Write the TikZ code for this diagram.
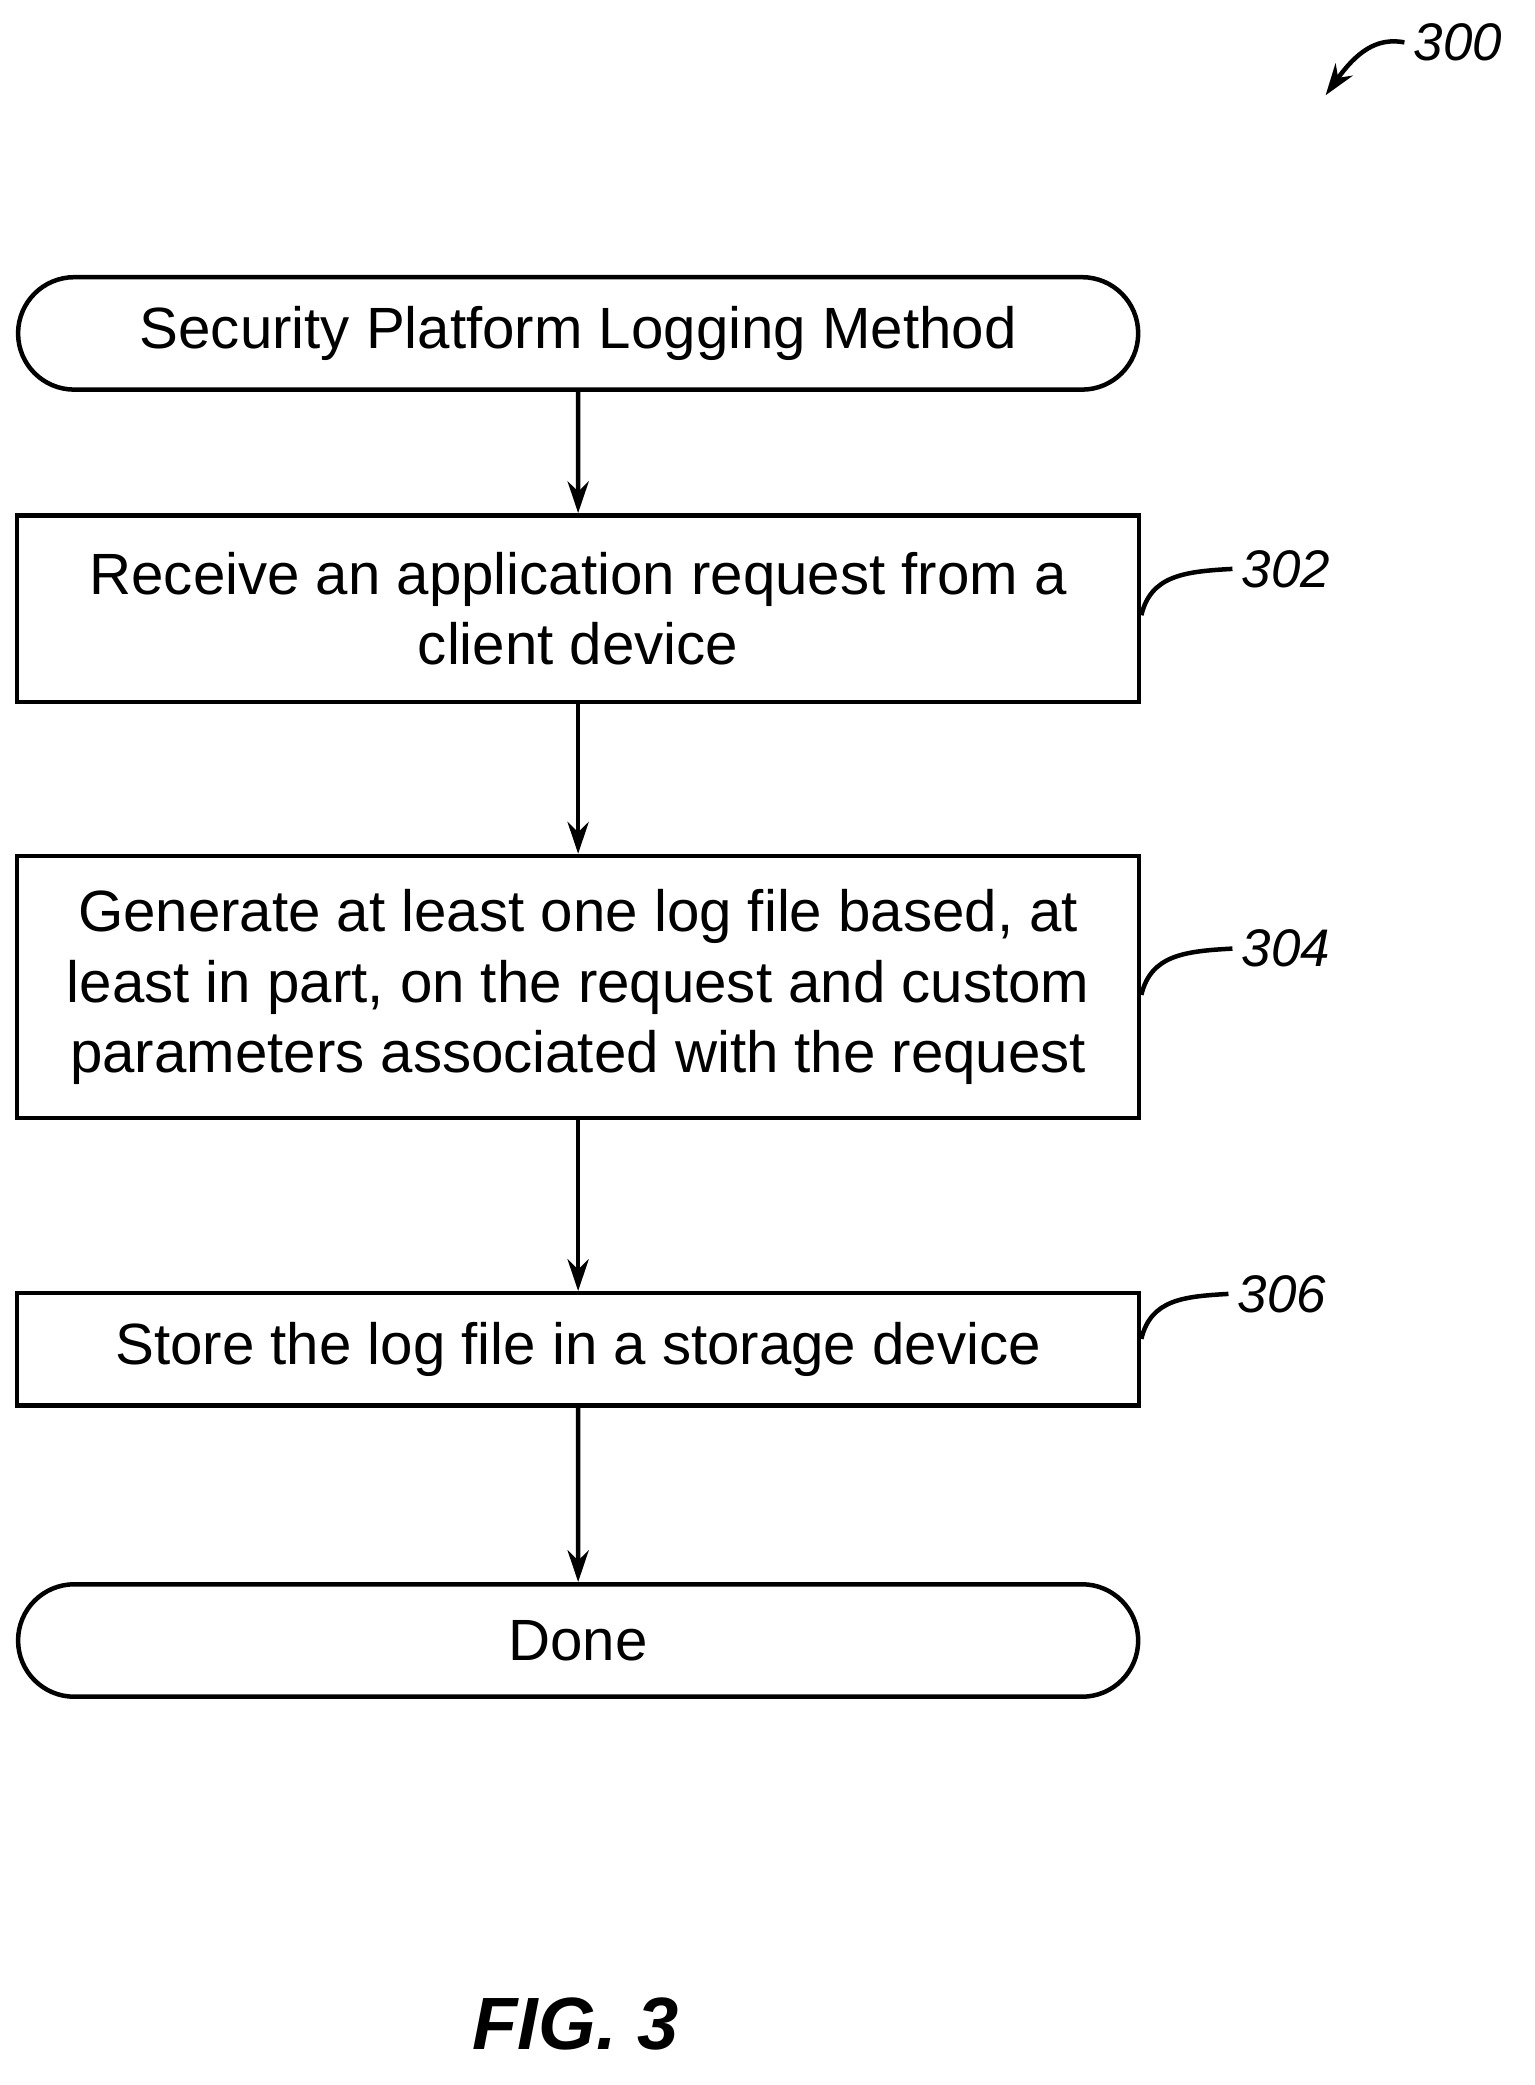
\documentclass[tikz,border=0pt]{standalone}
\usepackage{fontspec}
\setmainfont{Liberation Sans}
\usetikzlibrary{arrows.meta,positioning,shapes.misc}
\tikzset{
  >={Stealth[length=12pt,width=8pt]},
  flowbox/.style={draw,line width=1.7pt,rectangle,minimum width=424pt,align=center,font=\fontsize{22}{26.5}\selectfont},
  term/.style={flowbox,rounded rectangle,minimum width=430pt,minimum height=42.5pt},
  flow/.style={->,line width=1.7pt},
  lead/.style={line width=1.7pt},
  ref/.style={font=\itshape\fontsize{20}{22}\selectfont},
}
\begin{document}
\begin{tikzpicture}[x=0.5pt,y=-0.5pt]
  \useasboundingbox (0,0) rectangle (1160,1576);
  \node[term] (start) at (437,252) {Security Platform Logging Method};
  \node[flowbox,minimum height=70.5pt] (s302) at (437,460) {Receive an application request from a\\client device};
  \node[flowbox,minimum height=99pt] (s304) at (437,746) {Generate at least one log file based, at\\least in part, on the request and custom\\parameters associated with the request};
  \node[flowbox,minimum height=42.5pt] (s306) at (437,1020) {Store the log file in a storage device};
  \node[term] (done) at (437,1240) {Done};

  \draw[flow] (start) -- (s302);
  \draw[flow] (s302) -- (s304);
  \draw[flow] (s304) -- (s306);
  \draw[flow] (s306) -- (done);

  % reference labels
  \node[ref] (l302) at (972,430) {302};
  \node[ref] (l304) at (972,717) {304};
  \node[ref] (l306) at (969,978) {306};
  \node[ref] (l300) at (1102,32) {300};
  \draw[lead] (s302.east |- 0,465) .. controls (870,435) and (895,432) .. (l302.west);
  \draw[lead] (s304.east |- 0,752) .. controls (870,722) and (895,719) .. (l304.west);
  \draw[lead] (s306.east |- 0,1012) .. controls (870,982) and (895,980) .. (l306.west);
  \coordinate (tip300) at (1002,72);
  \draw[flow] (l300.west) .. controls (1040,28) and (1025,40) .. (tip300);

  \node[font=\bfseries\itshape\fontsize{28}{30}\selectfont] (fig) at (435,1530) {FIG. 3};
\end{tikzpicture}
\end{document}
